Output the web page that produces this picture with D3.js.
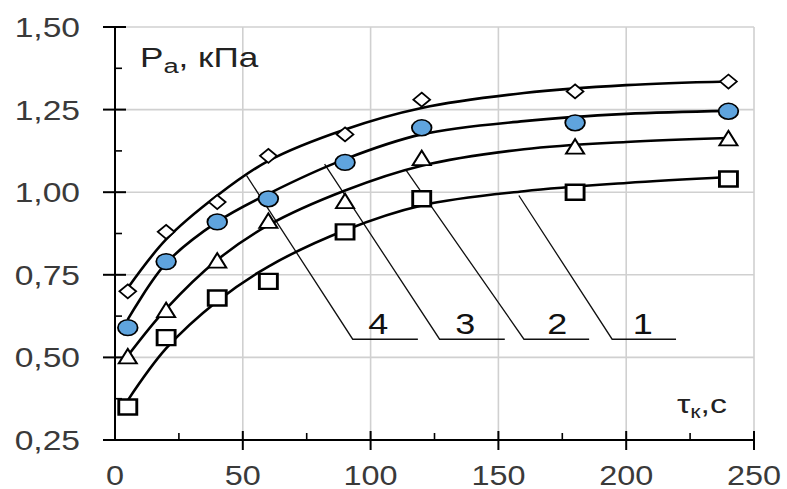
<!DOCTYPE html>
<html>
<head>
<meta charset="utf-8">
<script src="https://cdn.jsdelivr.net/npm/d3@7"></script>
<style>
  body { margin: 0; background: #fff; }
  text { font-family: "Liberation Sans", Arial, sans-serif; }
</style>
</head>
<body>
<div id="chart"></div>
<script>
// measured points (tau, s) for curves 1..4
const tau = [5, 20, 40, 60, 90, 120, 180, 240];
const p1 = [0.35, 0.56, 0.68, 0.73, 0.88, 0.98, 1.00, 1.04];
const p2 = [0.50, 0.64, 0.79, 0.91, 0.97, 1.10, 1.135, 1.16];
const p3 = [0.59, 0.79, 0.91, 0.98, 1.09, 1.195, 1.21, 1.245];
const p4 = [0.70, 0.88, 0.97, 1.11, 1.175, 1.28, 1.305, 1.335];

// trend lines
const fitTau = [5, 20, 40, 60, 90, 120, 160, 200, 240];
const fit1 = [0.37, 0.527, 0.67, 0.775, 0.885, 0.96, 1.003, 1.028, 1.046];
const fit2 = [0.505, 0.647, 0.795, 0.90, 1.005, 1.08, 1.13, 1.152, 1.164];
const fit3 = [0.615, 0.785, 0.91, 0.995, 1.10, 1.175, 1.215, 1.237, 1.246];
const fit4 = [0.71, 0.857, 0.99, 1.095, 1.19, 1.255, 1.30, 1.324, 1.335];

// callouts 1..4
const leaderNames = ["1", "2", "3", "4"];
const leaderFromTau = [158, 114, 82, 51.5];
const leaderFromP = [0.99, 1.065, 1.085, 1.05];
const leaderToTau = [194.5, 160, 127, 93];
const leaderEndTau = [219.5, 185.5, 152.5, 118.5];
const labelTau = [206.5, 173, 137, 103];
const leaderLevel = 0.555;
const labelLevel = 0.571;

const xTicks = [0, 50, 100, 150, 200, 250];
const xTickLabels = ["0", "50", "100", "150", "200", "250"];
const yTicks = [0.25, 0.5, 0.75, 1.0, 1.25, 1.5];
const yTickLabels = ["0,25", "0,50", "0,75", "1,00", "1,25", "1,50"];
const xMinor = [25, 75, 125, 175, 225];
const yMinor = [0.375, 0.625, 0.875, 1.125, 1.375];

const W = 787, H = 489;
const SX = 1.2; // the source picture is stretched sideways

const svg = d3.select("#chart").append("svg")
    .attr("width", W)
    .attr("height", H);

const x = d3.scaleLinear().domain([0, 250]).range([115, 754]);
const y = d3.scaleLinear().domain([0.25, 1.5]).range([440, 27]);

// grid
svg.append("g").selectAll("line")
    .data(xTicks.slice(1))
    .enter().append("line")
    .attr("x1", d => x(d)).attr("x2", d => x(d))
    .attr("y1", y(0.25)).attr("y2", y(1.5))
    .attr("stroke", "#d0d0d0").attr("stroke-width", 1.6);

svg.append("g").selectAll("line")
    .data(yTicks.slice(1))
    .enter().append("line")
    .attr("x1", x(0)).attr("x2", x(250))
    .attr("y1", d => y(d)).attr("y2", d => y(d))
    .attr("stroke", "#d0d0d0").attr("stroke-width", 1.6);

// axes
const axisX = d3.axisBottom(x).tickValues(xTicks).tickSize(0).tickFormat("");
const axisY = d3.axisLeft(y).tickValues(yTicks).tickSize(0).tickFormat("");

const gx = svg.append("g").attr("transform", `translate(0,${y(0.25)})`).call(axisX);
const gy = svg.append("g").attr("transform", `translate(${x(0)},0)`).call(axisY);
gx.select(".domain").attr("d", `M${x(0) - 12},0H${x(250)}`).attr("stroke", "#000").attr("stroke-width", 2);
gy.select(".domain").attr("d", `M0,${y(0.25)}V${y(1.5)}`).attr("stroke", "#000").attr("stroke-width", 2);

// major ticks cross the axis, minor ones point inwards
svg.append("g").selectAll("line")
    .data(xTicks.slice(1))
    .enter().append("line")
    .attr("x1", d => x(d)).attr("x2", d => x(d))
    .attr("y1", y(0.25) - 9).attr("y2", y(0.25) + 10)
    .attr("stroke", "#000").attr("stroke-width", 2);
svg.append("g").selectAll("line")
    .data(yTicks)
    .enter().append("line")
    .attr("x1", x(0) - 12).attr("x2", x(0) + 11)
    .attr("y1", d => y(d)).attr("y2", d => y(d))
    .attr("stroke", "#000").attr("stroke-width", 2);
svg.append("g").selectAll("line")
    .data(xMinor)
    .enter().append("line")
    .attr("x1", d => x(d)).attr("x2", d => x(d))
    .attr("y1", y(0.25) - 7).attr("y2", y(0.25))
    .attr("stroke", "#000").attr("stroke-width", 1.6);
svg.append("g").selectAll("line")
    .data(yMinor)
    .enter().append("line")
    .attr("x1", x(0)).attr("x2", x(0) + 7)
    .attr("y1", d => y(d)).attr("y2", d => y(d))
    .attr("stroke", "#000").attr("stroke-width", 1.6);

// tick labels
svg.append("g").selectAll("text")
    .data(xTicks)
    .enter().append("text")
    .attr("transform", d => `translate(${x(d)},485) scale(${SX},1)`)
    .attr("text-anchor", "middle")
    .attr("font-size", 27)
    .attr("fill", "#3a3a3a")
    .text((d, i) => xTickLabels[i]);

svg.append("g").selectAll("text")
    .data(yTicks)
    .enter().append("text")
    .attr("transform", d => `translate(80,${y(d) + 10}) scale(${SX},1)`)
    .attr("text-anchor", "end")
    .attr("font-size", 28)
    .attr("fill", "#3a3a3a")
    .text((d, i) => yTickLabels[i]);

// axis titles
const ty = svg.append("text")
    .attr("transform", `translate(140,67) scale(1.3,1)`)
    .attr("font-size", 27)
    .attr("fill", "#222");
ty.append("tspan").text("P");
ty.append("tspan").attr("font-size", 21).attr("dy", 6).text("а");
ty.append("tspan").attr("dy", -6).text(", кПа");

const tx = svg.append("text")
    .attr("transform", `translate(677,413) scale(1.3,1)`)
    .attr("font-size", 26)
    .attr("fill", "#222");
tx.append("tspan").text("τ");
tx.append("tspan").attr("font-size", 18).attr("dy", 5).text("к");
tx.append("tspan").attr("dy", -5).text(",с");

// callout lines
const leaders = svg.append("g");
leaderNames.forEach((name, i) => {
    leaders.append("path")
        .attr("d", d3.line()([
            [x(leaderFromTau[i]), y(leaderFromP[i])],
            [x(leaderToTau[i]), y(leaderLevel)],
            [x(leaderEndTau[i]), y(leaderLevel)]
        ]))
        .attr("fill", "none")
        .attr("stroke", "#111")
        .attr("stroke-width", 1.3);
    leaders.append("text")
        .attr("transform", `translate(${x(labelTau[i])},${y(labelLevel)}) scale(${SX},1)`)
        .attr("text-anchor", "middle")
        .attr("font-size", 30)
        .attr("fill", "#111")
        .text(name);
});

// trend curves
const line = d3.line()
    .x((d, i) => x(fitTau[i]))
    .y(d => y(d))
    .curve(d3.curveCatmullRom.alpha(0.5));

svg.append("g").selectAll("path")
    .data([fit1, fit2, fit3, fit4])
    .enter().append("path")
    .attr("d", line)
    .attr("fill", "none")
    .attr("stroke", "#000")
    .attr("stroke-width", 2.6);

// markers
const pos = v => (d, i) => `translate(${x(tau[i])},${y(d)}) scale(${SX},1)`;

svg.append("g").selectAll("path")
    .data(p1)
    .enter().append("path")
    .attr("transform", pos())
    .attr("d", "M-7.5,-7.5H7.5V7.5H-7.5Z")
    .attr("fill", "#fff")
    .attr("stroke", "#000")
    .attr("stroke-width", 2.4);

svg.append("g").selectAll("path")
    .data(p2)
    .enter().append("path")
    .attr("transform", pos())
    .attr("d", "M0,-8.5L7.5,6H-7.5Z")
    .attr("fill", "#fff")
    .attr("stroke", "#000")
    .attr("stroke-width", 1.8);

svg.append("g").selectAll("ellipse")
    .data(p3)
    .enter().append("ellipse")
    .attr("transform", pos())
    .attr("rx", 8.2)
    .attr("ry", 7.9)
    .attr("fill", "#5fa4de")
    .attr("stroke", "#000")
    .attr("stroke-width", 1.5);

svg.append("g").selectAll("path")
    .data(p4)
    .enter().append("path")
    .attr("transform", pos())
    .attr("d", "M0,-7L7,0L0,7L-7,0Z")
    .attr("fill", "#fff")
    .attr("stroke", "#000")
    .attr("stroke-width", 1.6);
</script>
</body>
</html>
